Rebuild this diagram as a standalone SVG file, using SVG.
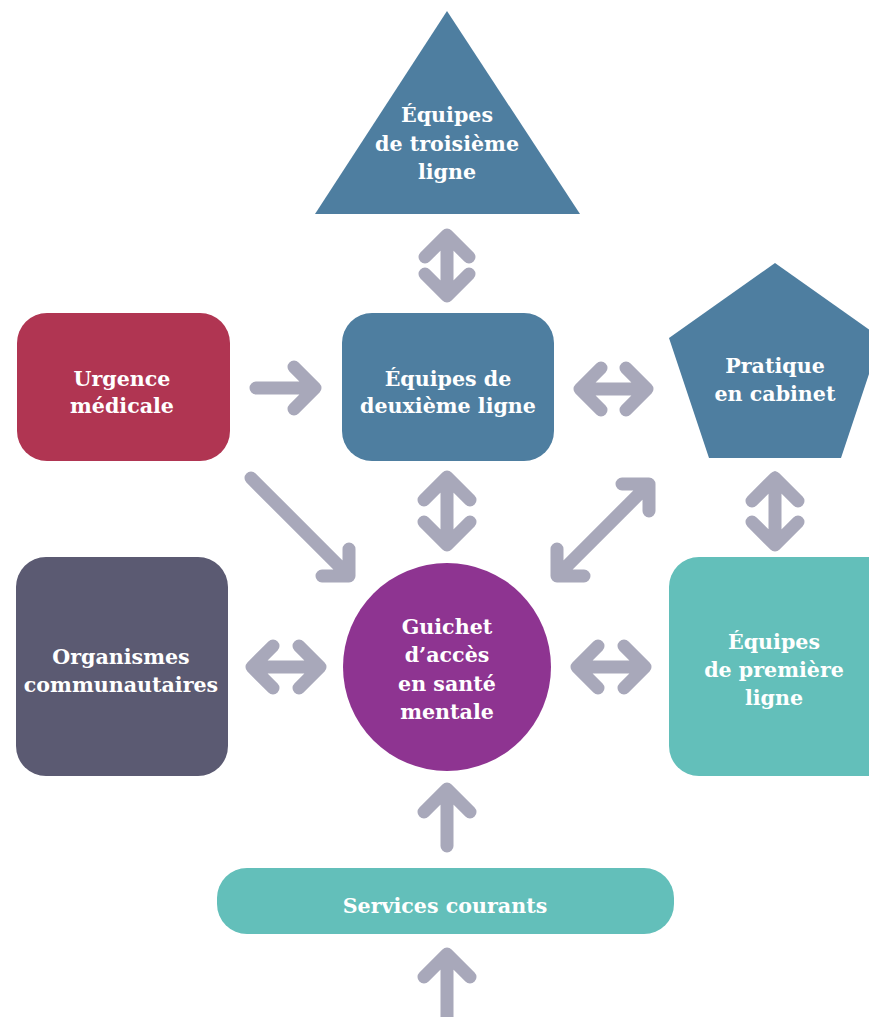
<svg xmlns="http://www.w3.org/2000/svg" width="869" height="1017" viewBox="0 0 869 1017">
<style>
.t{font-family:"DejaVu Serif","Liberation Serif",serif;font-weight:bold;font-size:20.6px;fill:#fff;text-anchor:middle}
.a{fill:none;stroke:#A8A8BA;stroke-width:13;stroke-linecap:round;stroke-linejoin:round}
</style>
<rect width="869" height="1017" fill="#fff"/>
<g id="connectors">
<path class="a" d="M447,235 L447,296 M425,257 L447,235 L469,257 M425,274 L447,296 L469,274"/>
<path class="a" d="M256,388 L315,388 M294,367 L315,388 L294,409"/>
<path class="a" d="M580,389 L647,389 M601,368 L580,389 L601,410 M626,368 L647,389 L626,410"/>
<path class="a" d="M447,477 L447,545 M424,500 L447,477 L470,500 M424,522 L447,545 L470,522"/>
<path class="a" d="M251,478 L349,576 M349,549 L349,576 L322,576"/>
<path class="a" d="M557,576 L649,484 M557,549 L557,576 L584,576 M622,484 L649,484 L649,511"/>
<path class="a" d="M775,478 L775,545 M752,501 L775,478 L798,501 M752,522 L775,545 L798,522"/>
<path class="a" d="M252,667 L320,667 M273,646 L252,667 L273,688 M299,646 L320,667 L299,688"/>
<path class="a" d="M577,667 L645,667 M598,646 L577,667 L598,688 M624,646 L645,667 L624,688"/>
<path class="a" d="M447,846 L447,789 M424,812 L447,789 L470,812"/>
<path class="a" d="M447,1025 L447,954 M424,977 L447,954 L470,977"/>
</g>
<g id="troisieme">
<polygon points="447,11 580,214 315,214" fill="#4E7EA0"/>
<text class="t" x="447" y="122">Équipes</text>
<text class="t" x="447" y="151">de troisième</text>
<text class="t" x="447" y="179">ligne</text>
</g>
<g id="urgence">
<rect x="17" y="313" width="213" height="148" rx="30" fill="#B03552"/>
<text class="t" x="122" y="386">Urgence</text>
<text class="t" x="122" y="413">médicale</text>
</g>
<g id="deuxieme">
<rect x="342" y="313" width="212" height="148" rx="30" fill="#4E7EA0"/>
<text class="t" x="448" y="386">Équipes de</text>
<text class="t" x="448" y="413">deuxième ligne</text>
</g>
<g id="cabinet">
<polygon points="775,263 881,338 841,458 709,458 669,338" fill="#4E7EA0"/>
<text class="t" x="775" y="373">Pratique</text>
<text class="t" x="775" y="401">en cabinet</text>
</g>
<g id="organismes">
<rect x="16" y="557" width="212" height="219" rx="30" fill="#5B5A72"/>
<text class="t" x="121" y="664">Organismes</text>
<text class="t" x="121" y="692">communautaires</text>
</g>
<g id="guichet">
<circle cx="447" cy="667" r="104" fill="#8E3491"/>
<text class="t" x="447" y="634">Guichet</text>
<text class="t" x="447" y="662">d’accès</text>
<text class="t" x="447" y="691">en santé</text>
<text class="t" x="447" y="719">mentale</text>
</g>
<g id="premiere">
<rect x="669" y="557" width="230" height="219" rx="30" fill="#63BFBA"/>
<text class="t" x="774" y="649">Équipes</text>
<text class="t" x="774" y="677">de première</text>
<text class="t" x="774" y="705">ligne</text>
</g>
<g id="services">
<rect x="217" y="868" width="457" height="66" rx="30" fill="#63BFBA"/>
<text class="t" x="445" y="913">Services courants</text>
</g>
</svg>
